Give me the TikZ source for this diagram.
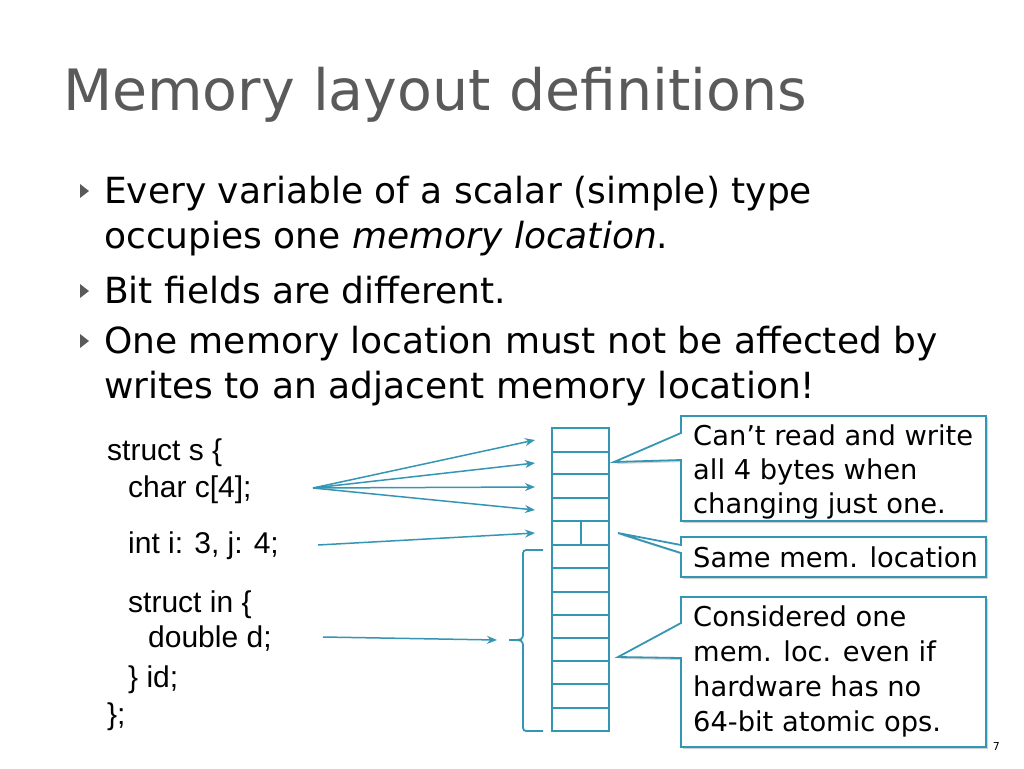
\documentclass[tikz,border=0pt]{standalone}
\usepackage{fontspec}
\setmainfont{DejaVu Sans}
\newfontfamily\codefont{Liberation Sans}
\usetikzlibrary{shadows,arrows.meta}
\definecolor{teal1}{RGB}{52,150,180}
\definecolor{titlegray}{RGB}{90,90,90}
\tikzset{
  txt/.style={anchor=base west,inner sep=0pt,font=\fontsize{36}{40}\selectfont},
  code/.style={anchor=base west,inner sep=0pt,font=\codefont\fontsize{30}{34}\selectfont},
  cell/.style={draw=teal1,line width=1.8pt},
  conn/.style={draw=teal1,line width=1.5pt,-{Stealth[length=10pt,width=8pt]}},
  callout/.style={draw=teal1,line width=1.8pt,fill=white,drop shadow={shadow xshift=2pt,shadow yshift=-2pt,opacity=0.35}},
  ctxt/.style={anchor=base west,inner sep=0pt,font=\fontsize{27.3}{30}\selectfont},
  bul/.style={fill=titlegray,draw=none}
}
\begin{document}
\begin{tikzpicture}[x=1pt,y=-1pt]
\useasboundingbox (0,0) rectangle (1024,768);
\fill[white] (0,0) rectangle (1024,768);
% title
\node[anchor=base west,inner sep=0pt,text=titlegray,font=\fontsize{57}{64}\selectfont] (title) at (63,110) {Memory layout definitions};
% bullets
\foreach \y [count=\i] in {191,291,341} \fill[bul] (80,\y-7) -- (89,\y) -- (80,\y+7) -- cycle;
\node[txt] (b1) at (104,203) {Every variable of a scalar (simple) type};
\node[txt] (b1b) at (104,248) {occupies one \textit{memory location}.};
\node[txt] (b2) at (104,303) {Bit fields are different.};
\node[txt] (b3) at (104,353) {One memory location must not be affected by};
\node[txt] (b3b) at (104,398) {writes to an adjacent memory location!};
% code
\node[code] (c1) at (107,460) {struct s \{};
\node[code] (c2) at (128,497) {char c[4];};
\node[code] (c3) at (128,553) {int i: 3, j: 4;};
\node[code] (c4) at (128,612) {struct in \{};
\node[code] (c5) at (148,647) {double d;};
\node[code] (c6) at (128,687) {\} id;};
\node[code] (c7) at (107,724) {\};};
% memory column
\draw[cell] (552,428) rectangle (609,731);
\foreach \y in {452,474,498,521,545,568,592,615,638,661,684,708} \draw[cell] (552,\y) -- (609,\y);
\draw[cell] (581,521) -- (581,545);
% targets
\coordinate (t1) at (535,440);
\coordinate (t2) at (535,463);
\coordinate (t3) at (535,487);
\coordinate (t4) at (535,510);
\coordinate (t5) at (535,533);
\coordinate (t6) at (497,640);
\coordinate (s1) at (313,488);
\coordinate (s2) at (318,545);
\coordinate (s3) at (323,637);
\foreach \t in {t1,t2,t3,t4} \draw[conn] (s1) -- (\t);
\draw[conn] (s2) -- (t5);
\draw[conn] (s3) -- (t6);
% brace
\draw[teal1,line width=1.8pt] (543,550) -- (530,550) .. controls (523,550) .. (523,557) -- (523,632) .. controls (523,640) .. (509,640) .. controls (523,640) .. (523,648) -- (523,724) .. controls (523,731) .. (530,731) -- (543,731);
% callouts
\draw[callout] (681,416) -- (986,416) -- (986,521) -- (681,521) -- (681,460) -- (614,462) -- (681,433) -- cycle;
\draw[callout] (681,537) -- (986,537) -- (986,577) -- (681,577) -- (681,553) -- (618,533) -- (681,545) -- cycle;
\draw[callout] (681,597) -- (986,597) -- (986,747) -- (681,747) -- (681,658) -- (618,657) -- (681,623) -- cycle;
\node[ctxt] (k1) at (693,445) {Can’t read and write};
\node[ctxt] (k2) at (693,479) {all 4 bytes when};
\node[ctxt] (k3) at (693,513) {changing just one.};
\node[ctxt] (k4) at (693,567) {Same mem. location};
\node[ctxt] (k5) at (693,626) {Considered one};
\node[ctxt] (k6) at (693,661) {mem. loc. even if};
\node[ctxt] (k7) at (693,696) {hardware has no};
\node[ctxt] (k8) at (693,731) {64-bit atomic ops.};
\node[anchor=base east,inner sep=0pt,font=\fontsize{11}{12}\selectfont] (pg) at (1000,750) {7};
\end{tikzpicture}
\end{document}
